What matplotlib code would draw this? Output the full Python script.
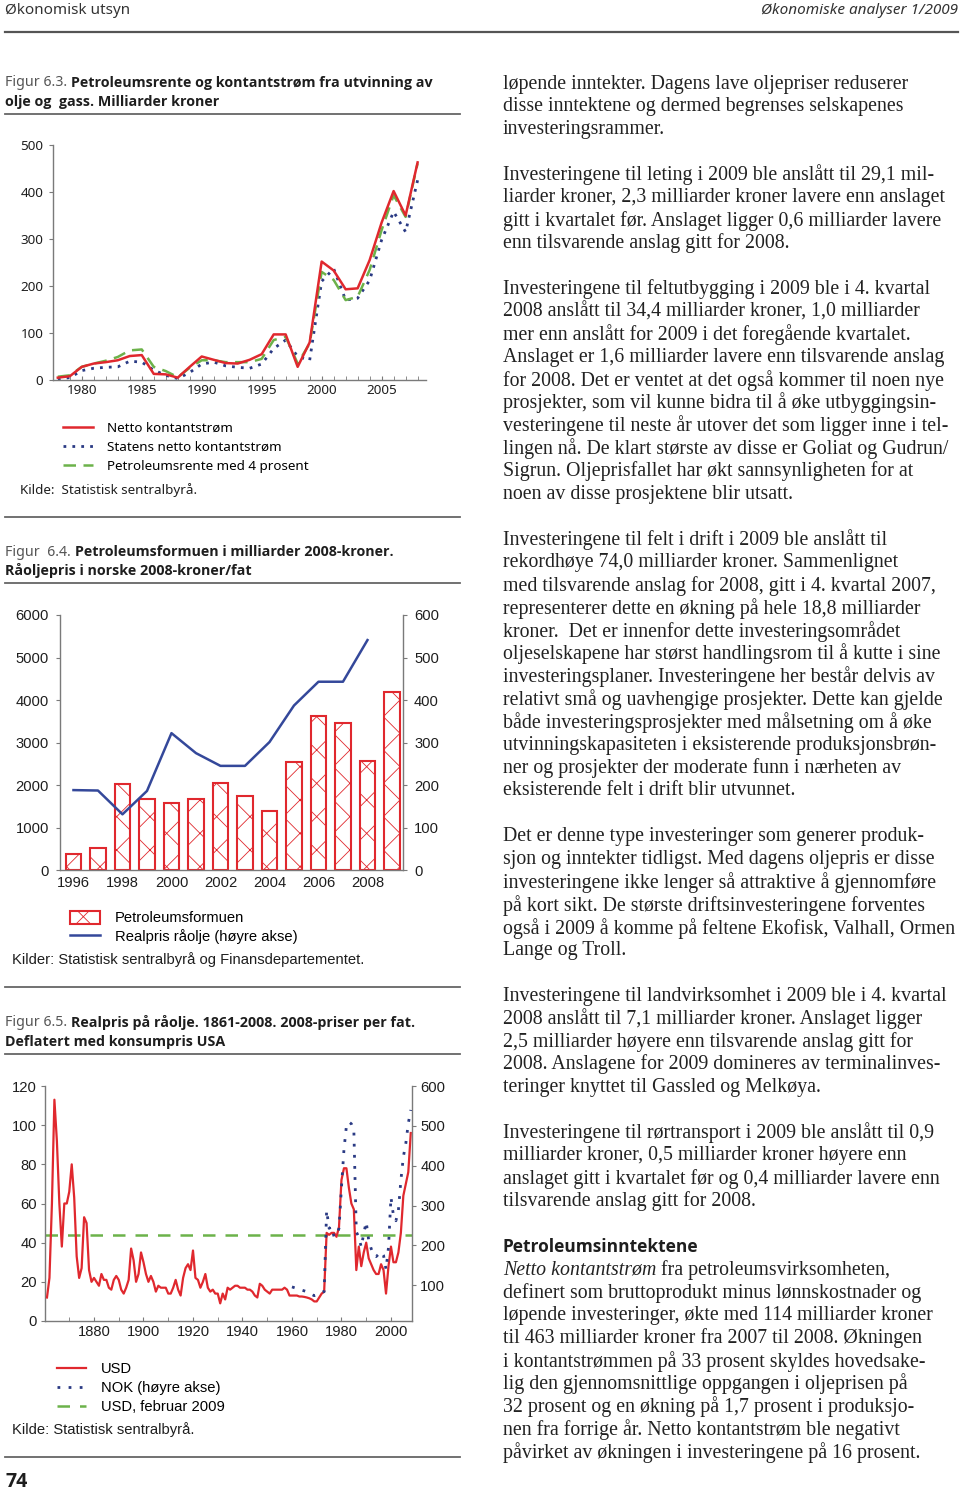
import os
import numpy as np
import matplotlib
matplotlib.use('Agg')
import matplotlib.pyplot as plt
from matplotlib import font_manager as fm
from matplotlib.lines import Line2D

# ---------- data ----------
# Figur 6.3
years1 = np.arange(1978, 2009)
netto = [5, 8, 28, 35, 38, 42, 51, 53, 13, 12, 5, 28, 50, 43, 36, 35, 43, 55,
         97, 97, 28, 80, 252, 233, 193, 195, 255, 335, 402, 350, 463]
statens = [2, 5, 20, 25, 27, 28, 40, 38, 21, 10, 3, 16, 34, 38, 30, 27, 25, 34,
           67, 85, 50, 42, 210, 237, 170, 174, 212, 298, 358, 315, 425]
petro = [7, 10, 28, 35, 41, 49, 63, 65, 28, 19, 6, 26, 42, 42, 38, 38, 38, 45,
         85, 92, 35, 78, 230, 213, 170, 177, 234, 319, 393, 347, 461]

# Figur 6.4
years_bar = np.arange(1996, 2010)
formue = [380, 510, 2020, 1665, 1565, 1675, 2045, 1745, 1390, 2540, 3635, 3455, 2570, 4200]
years_line = np.arange(1996, 2009)
realpris = [188, 187, 131, 186, 322, 275, 245, 245, 301, 387, 443, 443, 541]

# Figur 6.5
years3 = np.arange(1861, 2009)
usd = [12, 22, 60, 113, 92, 60, 38, 60, 60, 66,
       80, 63, 33, 22, 27, 53, 50, 26, 20, 22,
       20, 18, 24, 21, 21, 17, 16, 21, 23, 21,
       16, 14, 17, 21, 37, 31, 20, 24, 35, 30,
       24, 20, 23, 20, 15, 18, 17, 17, 17, 14,
       14, 17, 21, 16, 13, 22, 27, 29, 26, 36,
       22, 21, 17, 20, 24, 17, 15, 16, 14, 14,
       9, 14, 11, 17, 16, 17, 18, 18, 17, 17,
       17, 16, 16, 15, 13, 12, 19, 18, 16, 15,
       14, 16, 16, 16, 16, 16, 17, 16, 13, 13,
       13, 13, 12.5, 12.5, 12.3, 12, 11.6, 11, 10, 10,
       12, 14, 15, 45, 44, 45, 45, 43, 48, 72,
       78, 78, 68, 60, 57, 26, 38, 28, 35, 40,
       32, 29, 26, 24, 24, 29, 26, 14, 28, 38,
       30, 30, 35, 45, 64, 70, 76, 96]
years_nok = np.arange(1960, 2009)
nok = [96, 94, 92, 90, 88, 86, 84, 80, 77, 74,
       76, 80, 83, 84, 288, 243, 247, 222, 225, 243,
       346, 440, 500, 510, 505, 490, 234, 221, 196, 230,
       259, 213, 192, 175, 172, 178, 184, 175, 140, 195,
       321, 275, 262, 288, 363, 422, 456, 506, 540]
usd_feb09 = 44

# ---------- page setup ----------
W, H = 960, 1492
fig = plt.figure(figsize=(W / 100, H / 100), dpi=100)
renderer = fig.canvas.get_renderer()


def has_bold(fam):
    try:
        p = fm.findfont(fm.FontProperties(family=fam, weight='bold'),
                        fallback_to_default=False)
    except Exception:
        return False
    if fm.FontProperties(fname=p).get_name() != fam:
        return False
    return 'bold' in os.path.basename(p).lower()


SANS = ['Noto Sans', 'DejaVu Sans']
BOLD_FAM = next((f for f in ['Noto Sans', 'Open Sans', 'Lato', 'Roboto',
                             'Liberation Sans'] if has_bold(f)), 'DejaVu Sans')
SANSB = [BOLD_FAM, 'DejaVu Sans']
ARIAL = ['Liberation Sans', 'DejaVu Sans']
SERIF = ['Liberation Serif', 'DejaVu Serif']
RED = '#e0282e'
BLUE = '#2a3a84'
BLUE2 = '#34489a'
GREEN = '#6cb24a'
GRAY = '#7a7a7a'
TXT = '#1e1e1e'


def rect(x0, y0, x1, y1):
    return [x0 / W, 1 - y1 / H, (x1 - x0) / W, (y1 - y0) / H]


def put(x, y, s, **kw):
    kw.setdefault('va', 'center')
    kw.setdefault('color', TXT)
    return fig.text(x / W, 1 - y / H, s, **kw)


def width(t):
    return t.get_window_extent(renderer).width


def fit(s, target, **kw):
    t = put(0, 0, s, fontsize=10, **kw)
    w = width(t)
    t.remove()
    return 10 * target / w


def hline(x0, x1, y, lw=1.3, color='#666666'):
    fig.add_artist(Line2D([x0 / W, x1 / W], [1 - y / H, 1 - y / H],
                          transform=fig.transFigure, lw=lw, color=color))


# header
hs = fit('Økonomisk utsyn', 125, family=SANS)
put(5, 11, 'Økonomisk utsyn', fontsize=hs, family=SANS, color='#333333')
put(958, 11, 'Økonomiske analyser 1/2009', fontsize=hs, family=SANS,
    style='italic', ha='right', color='#333333')
hline(5, 958, 32, lw=1.6, color='#555555')

# figure titles
ts = fit('Petroleumsrente og kontantstrøm fra utvinning av', 361,
         family=SANSB, weight='bold')


def title(y1, label, line1, line2):
    t = put(5, y1, label, fontsize=ts, family=SANS, color='#555555')
    x = 5 + width(t) + 4
    put(x, y1, line1, fontsize=ts, family=SANSB, weight='bold')
    put(5, y1 + 19, line2, fontsize=ts, family=SANSB, weight='bold')


title(83, 'Figur 6.3.', 'Petroleumsrente og kontantstrøm fra utvinning av',
      'olje og  gass. Milliarder kroner')
title(552, 'Figur  6.4.', 'Petroleumsformuen i milliarder 2008-kroner.',
      'Råoljepris i norske 2008-kroner/fat')
title(1023, 'Figur 6.5.', 'Realpris på råolje. 1861-2008. 2008-priser per fat.',
      'Deflatert med konsumpris USA')
for y in [114, 517, 583, 987, 1054, 1457]:
    hline(5, 460, y)


def style_axes(ax, left=True, right=False):
    for s in ax.spines.values():
        s.set_color(GRAY)
        s.set_linewidth(1.0)
    ax.spines['top'].set_visible(False)
    ax.spines['right'].set_visible(right)
    ax.spines['left'].set_visible(left)
    ax.set_facecolor('none')


# ---------- Figur 6.3 ----------
ax1 = fig.add_axes(rect(53, 145, 426, 380))
style_axes(ax1)
l_st, = ax1.plot(years1, statens, color=BLUE, lw=2.0, ls=(0, (1, 2.2)),
                 label='Statens netto kontantstrøm', zorder=2)
l_pe, = ax1.plot(years1, petro, color=GREEN, lw=1.8, ls=(0, (5, 3)),
                 label='Petroleumsrente med 4 prosent', zorder=2)
l_ne, = ax1.plot(years1, netto, color=RED, lw=1.8,
                 label='Netto kontantstrøm', zorder=3)
ax1.set_xlim(1977.6, 2008.7)
ax1.set_ylim(0, 500)
ax1.set_yticks(range(0, 501, 100))
ax1.set_xticks(range(1980, 2006, 5))
ax1.set_xticks(years1, minor=True)
ax1.tick_params(axis='y', direction='out', length=3, color=GRAY, pad=4,
                labelsize=9.7, labelcolor=TXT)
ax1.tick_params(axis='x', which='both', direction='in', length=3, color=GRAY,
                pad=3, labelsize=9.7, labelcolor=TXT)
for lab in ax1.get_xticklabels() + ax1.get_yticklabels():
    lab.set_family(SANS)
ax1.legend(handles=[l_ne, l_st, l_pe], loc='upper left',
           bbox_to_anchor=(63 / W, 1 - 422 / H), bbox_transform=fig.transFigure,
           frameon=False, borderpad=0, borderaxespad=0, handlelength=2.2,
           handletextpad=1.1, labelspacing=0.45,
           prop=dict(family=SANS, size=9.7))
put(20, 490, 'Kilde:  Statistisk sentralbyrå.', fontsize=9.7, family=SANS)

# ---------- Figur 6.4 ----------
plt.rcParams['hatch.linewidth'] = 0.6
ax2 = fig.add_axes(rect(60, 615, 403, 870))
style_axes(ax2)
bars = ax2.bar(years_bar, formue, width=0.62, facecolor='white', edgecolor=RED,
               lw=1.5, hatch='x', label='Petroleumsformuen')
ax2.set_xlim(1995.45, 2009.45)
ax2.set_ylim(0, 6000)
ax2.set_yticks(range(0, 6001, 1000))
ax2.set_xticks(range(1996, 2009, 2))
ax2r = ax2.twinx()
style_axes(ax2r, left=False, right=True)
ax2r.spines['bottom'].set_visible(False)
l_rp, = ax2r.plot(years_line, realpris, color=BLUE2, lw=1.8,
                  label='Realpris råolje (høyre akse)')
ax2r.set_ylim(0, 600)
ax2r.set_yticks(range(0, 601, 100))
for a in (ax2, ax2r):
    a.tick_params(axis='y', direction='out', length=3, color=GRAY, pad=5,
                  labelsize=10.6, labelcolor=TXT)
ax2.tick_params(axis='x', length=0, pad=4, labelsize=10.6, labelcolor=TXT)
for lab in (ax2.get_xticklabels() + ax2.get_yticklabels()
            + ax2r.get_yticklabels()):
    lab.set_family(ARIAL)
ax2r.legend(handles=[bars, l_rp], loc='upper left',
            bbox_to_anchor=(70 / W, 1 - 911 / H), bbox_transform=fig.transFigure,
            frameon=False, borderpad=0, borderaxespad=0, handlelength=2.05,
            handleheight=0.95, handletextpad=1.0, labelspacing=0.25,
            prop=dict(family=ARIAL, size=10.6))
put(12, 960, 'Kilder: Statistisk sentralbyrå og Finansdepartementet.',
    fontsize=10.6, family=ARIAL)

# ---------- Figur 6.5 ----------
ax3 = fig.add_axes(rect(45, 1086, 412, 1321))
style_axes(ax3)
l_usd, = ax3.plot(years3, usd, color=RED, lw=1.6, label='USD', zorder=3)
l_feb = ax3.axhline(usd_feb09, color=GREEN, lw=1.8, ls=(0, (5, 4)),
                    label='USD, februar 2009', zorder=2)
ax3.set_xlim(1860.2, 2008.5)
ax3.set_ylim(0, 120)
ax3.set_yticks(range(0, 121, 20))
ax3.set_xticks(range(1880, 2001, 20))
ax3.set_xticks(range(1870, 2001, 10), minor=True)
ax3r = ax3.twinx()
style_axes(ax3r, left=False, right=True)
ax3r.spines['bottom'].set_visible(False)
l_nok, = ax3r.plot(years_nok, nok, color=BLUE, lw=2.0, ls=(0, (1, 3)),
                   label='NOK (høyre akse)')
ax3r.set_ylim(10.5, 600)
ax3r.set_yticks(range(100, 601, 100))
for a in (ax3, ax3r):
    a.tick_params(axis='y', direction='out', length=3, color=GRAY, pad=3,
                  labelsize=10.6, labelcolor=TXT)
ax3.tick_params(axis='x', which='both', direction='in', length=3, color=GRAY,
                pad=3, labelsize=10.6, labelcolor=TXT)
for lab in (ax3.get_xticklabels() + ax3.get_yticklabels()
            + ax3r.get_yticklabels()):
    lab.set_family(ARIAL)
ax3r.legend(handles=[l_usd, l_nok, l_feb], loc='upper left',
            bbox_to_anchor=(57 / W, 1 - 1362 / H), bbox_transform=fig.transFigure,
            frameon=False, borderpad=0, borderaxespad=0, handlelength=2.0,
            handletextpad=1.0, labelspacing=0.35,
            prop=dict(family=ARIAL, size=10.6))
put(12, 1430, 'Kilde: Statistisk sentralbyrå.', fontsize=10.6, family=ARIAL)

put(5, 1482, '74', fontsize=14, family=SANSB, weight='bold')

# ---------- body text ----------
paragraphs = [
    (84, ['løpende inntekter. Dagens lave oljepriser reduserer',
          'disse inntektene og dermed begrenses selskapenes',
          'investeringsrammer.']),
    (175, ['Investeringene til leting i 2009 ble anslått til 29,1 mil-',
           'liarder kroner, 2,3 milliarder kroner lavere enn anslaget',
           'gitt i kvartalet før. Anslaget ligger 0,6 milliarder lavere',
           'enn tilsvarende anslag gitt for 2008.']),
    (289, ['Investeringene til feltutbygging i 2009 ble i 4. kvartal',
           '2008 anslått til 34,4 milliarder kroner, 1,0 milliarder',
           'mer enn anslått for 2009 i det foregående kvartalet.',
           'Anslaget er 1,6 milliarder lavere enn tilsvarende anslag',
           'for 2008. Det er ventet at det også kommer til noen nye',
           'prosjekter, som vil kunne bidra til å øke utbyggingsin-',
           'vesteringene til neste år utover det som ligger inne i tel-',
           'lingen nå. De klart største av disse er Goliat og Gudrun/',
           'Sigrun. Oljeprisfallet har økt sannsynligheten for at',
           'noen av disse prosjektene blir utsatt.']),
    (540, ['Investeringene til felt i drift i 2009 ble anslått til',
           'rekordhøye 74,0 milliarder kroner. Sammenlignet',
           'med tilsvarende anslag for 2008, gitt i 4. kvartal 2007,',
           'representerer dette en økning på hele 18,8 milliarder',
           'kroner.  Det er innenfor dette investeringsområdet',
           'oljeselskapene har størst handlingsrom til å kutte i sine',
           'investeringsplaner. Investeringene her består delvis av',
           'relativt små og uavhengige prosjekter. Dette kan gjelde',
           'både investeringsprosjekter med målsetning om å øke',
           'utvinningskapasiteten i eksisterende produksjonsbrøn-',
           'ner og prosjekter der moderate funn i nærheten av',
           'eksisterende felt i drift blir utvunnet.']),
    (837, ['Det er denne type investeringer som generer produk-',
           'sjon og inntekter tidligst. Med dagens oljepris er disse',
           'investeringene ikke lenger så attraktive å gjennomføre',
           'på kort sikt. De største driftsinvesteringene forventes',
           'også i 2009 å komme på feltene Ekofisk, Valhall, Ormen',
           'Lange og Troll.']),
    (996, ['Investeringene til landvirksomhet i 2009 ble i 4. kvartal',
           '2008 anslått til 7,1 milliarder kroner. Anslaget ligger',
           '2,5 milliarder høyere enn tilsvarende anslag gitt for',
           '2008. Anslagene for 2009 domineres av terminalinves-',
           'teringer knyttet til Gassled og Melkøya.']),
    (1133, ['Investeringene til rørtransport i 2009 ble anslått til 0,9',
            'milliarder kroner, 0,5 milliarder kroner høyere enn',
            'anslaget gitt i kvartalet før og 0,4 milliarder lavere enn',
            'tilsvarende anslag gitt for 2008.']),
    (1270, ['',
            'definert som bruttoprodukt minus lønnskostnader og',
            'løpende investeringer, økte med 114 milliarder kroner',
            'til 463 milliarder kroner fra 2007 til 2008. Økningen',
            'i kontantstrømmen på 33 prosent skyldes hovedsake-',
            'lig den gjennomsnittlige oppgangen i oljeprisen på',
            '32 prosent og en økning på 1,7 prosent i produksjo-',
            'nen fra forrige år. Netto kontantstrøm ble negativt',
            'påvirket av økningen i investeringene på 16 prosent.']),
]
# size the serif so the longest line just fits the column (503..955)
bs = min(fit(s, 452, family=SERIF) for _, lines in paragraphs for s in lines if s)
bs = min(bs, fit('liarder kroner, 2,3 milliarder kroner lavere enn anslaget', 454,
                 family=SERIF))
pitch = 22.8
for y0, lines in paragraphs:
    for i, s in enumerate(lines):
        if s:
            put(503, y0 + i * pitch, s, fontsize=bs, family=SERIF, color='#222222')

t = put(503, 1270, 'Netto kontantstrøm', fontsize=bs, family=SERIF,
        style='italic', color='#222222')
put(503 + width(t) + bs * 0.3, 1270, 'fra petroleumsvirksomheten,',
    fontsize=bs, family=SERIF, color='#222222')

hd = fit('Petroleumsinntektene', 197, family=SANSB, weight='bold')
put(503, 1247, 'Petroleumsinntektene', fontsize=hd, family=SANSB, weight='bold')

fig.savefig('out.png', dpi=100)
